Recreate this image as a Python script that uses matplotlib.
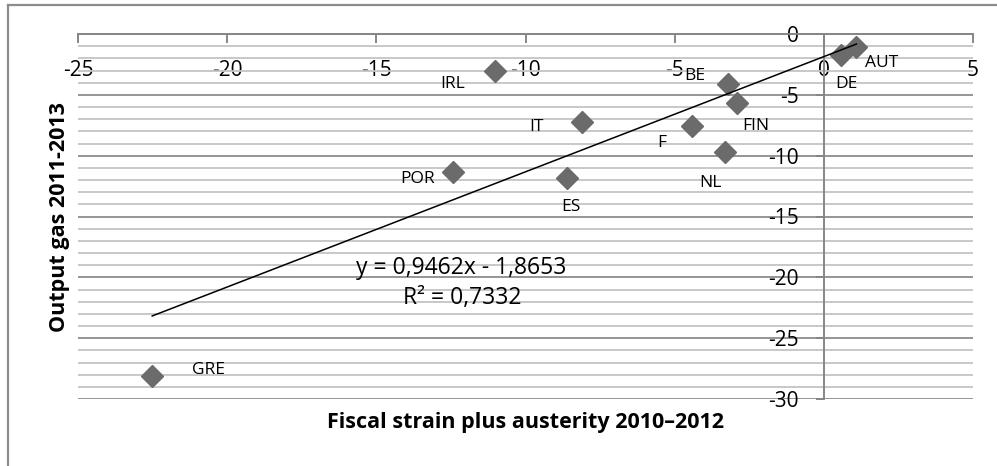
import matplotlib
matplotlib.use("Agg")
import matplotlib.pyplot as plt
import numpy as np
from matplotlib.lines import Line2D
from matplotlib.ticker import MultipleLocator

plt.rcParams['font.family'] = ['Open Sans', 'DejaVu Sans']
plt.rcParams['axes.unicode_minus'] = False

# values
countries = ["GRE", "POR", "IRL", "IT", "ES", "F", "BE", "FIN", "NL", "DE", "AUT"]
fiscal_strain = [-22.52, -12.42, -11.01, -8.09, -8.60, -4.40, -3.20, -2.90, -3.30, 0.59, 1.10]
output_gap = [-28.1, -11.34, -3.04, -7.23, -11.83, -7.56, -4.11, -5.67, -9.70, -1.73, -1.07]

slope = 0.9462
intercept = -1.8653
eq_text = "y = 0,9462x - 1,8653"
r2_text = "R² = 0,7332"

# label offsets in pixels (dx, dy) from each point
label_offsets = {
    "GRE": (56, 6), "POR": (-36, -7), "IRL": (-43, -13), "IT": (-46, -5),
    "ES": (4, -29), "F": (-31, -17), "BE": (-33, 8), "FIN": (19, -23),
    "NL": (-15, -31), "DE": (5, -29), "AUT": (25, -16),
}

W, H = 997, 466
fig = plt.figure(figsize=(W / 100, H / 100), dpi=100)
ax = fig.add_axes([78.3 / W, 1 - 399 / H, (972.7 - 78.3) / W, (399 - 34) / H])

ax.set_xlim(-25, 5)
ax.set_ylim(-30, 0)

axis_col = '#868686'
for s in ['top', 'right']:
    ax.spines[s].set_visible(False)
ax.spines['bottom'].set_position(('data', 0))
ax.spines['left'].set_position(('data', 0))
for s in ['bottom', 'left']:
    ax.spines[s].set_color(axis_col)
    ax.spines[s].set_linewidth(1.4)

ax.set_xticks(np.arange(-25, 6, 5))
ax.set_yticks(np.arange(-30, 1, 5))
ax.yaxis.set_minor_locator(MultipleLocator(1))
ax.tick_params(axis='x', direction='out', length=6.5, width=1.4, color=axis_col,
               pad=12, labelsize=15)
ax.tick_params(axis='y', which='major', direction='out', length=5.8, width=1.4,
               color=axis_col, pad=12, labelsize=15)
ax.tick_params(axis='y', which='minor', length=0)

ax.yaxis.grid(True, which='major', color='#8c8c8c', lw=1.3, zorder=0)
ax.yaxis.grid(True, which='minor', color='#c4c4c4', lw=1.3, zorder=0)
ax.set_axisbelow(True)

ax.plot(fiscal_strain, output_gap, linestyle='none', marker='D', ms=11,
        color='#6b6b6b', zorder=3, clip_on=False)

xs = np.array([min(fiscal_strain), max(fiscal_strain)])
ax.plot(xs, slope * xs + intercept, color='black', lw=1.1, zorder=4)

for name, x, y in zip(countries, fiscal_strain, output_gap):
    dx, dy = label_offsets[name]
    ax.annotate(name, (x, y), xytext=(dx, dy), textcoords='offset pixels',
                ha='center', va='center', fontsize=12.5)

fig.text(461 / W, 1 - 268 / H, eq_text, ha='center', va='center', fontsize=16.5)
fig.text(462 / W, 1 - 298 / H, r2_text, ha='center', va='center', fontsize=16.5)

fig.text(525 / W, 1 - 428 / H, "Fiscal strain plus austerity 2010–2012",
         ha='center', va='baseline', fontsize=15.5, fontweight='bold')
fig.text(59 / W, 1 - 217 / H, "Output gas 2011-2013", rotation=90,
         ha='center', va='center', fontsize=15.5, fontweight='bold')

# outer chart border (cut off at right and bottom)
fig.add_artist(Line2D([8 / W, 1], [1 - 5 / H, 1 - 5 / H], transform=fig.transFigure,
                      color='#8c8c8c', lw=1.6))
fig.add_artist(Line2D([8 / W, 8 / W], [0, 1 - 5 / H], transform=fig.transFigure,
                      color='#8c8c8c', lw=1.6))

fig.savefig("out.png", dpi=100)
